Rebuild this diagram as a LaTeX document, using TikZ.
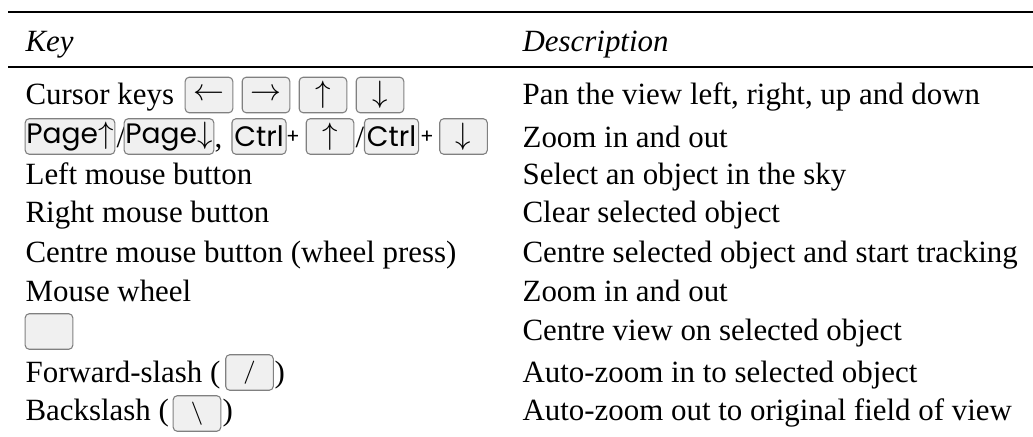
\documentclass[tikz,border=0pt]{standalone}
\usepackage{fontspec}
\setmainfont{Liberation Serif}
\newfontfamily\keyfont{Poppins}
\usetikzlibrary{positioning}

\begin{document}
\begin{tikzpicture}[x=0.3236pt, y=-0.3236pt,
  txt/.style={anchor=base west, inner sep=0pt, font=\fontsize{10}{12}\selectfont},
  head/.style={txt, font=\fontsize{10}{12}\selectfont\itshape},
  keycap/.style={draw=black!50, fill=black!6, rounded corners=1.3pt, line width=0.35pt,
    minimum height=11.5pt, minimum width=15.4pt, inner sep=0pt,
    font=\keyfont\fontsize{9.1}{11}\selectfont},
  pagekey/.style={keycap, minimum width=29pt},
  ctrlkey/.style={keycap, minimum width=17.5pt},
  plus/.style={inner sep=0pt, font=\keyfont\fontsize{6.5}{8}\selectfont}]
\useasboundingbox (0,0) rectangle (1033,437);

% Rules
\draw[line width=0.7pt] (8,12) -- (1033,12);
\draw[line width=0.45pt] (8,67) -- (1033,67);

% Header
\node[head] (hkey) at (25,52) {Key};
\node[head] (hdesc) at (522,52) {Description};

% Cursor keys
\node[txt] (cursor) at (25,105) {Cursor keys};
\node[keycap] (kleft) at (209,95) {\fontsize{10}{11}\selectfont$\leftarrow$};
\node[keycap] (kright) at (266,95) {\fontsize{10}{11}\selectfont$\rightarrow$};
\node[keycap] (kup) at (323,95) {\fontsize{10}{11}\selectfont$\uparrow$};
\node[keycap] (kdown) at (380,95) {\fontsize{10}{11}\selectfont$\downarrow$};

% Page / Ctrl keys
\node[pagekey] (pgup) at (70,136.5) {Page{\fontsize{10}{11}\selectfont$\uparrow$}};
\node[txt] (sl1) at (116,148) {/};
\node[pagekey] (pgdn) at (169,136.5) {Page{\fontsize{10}{11}\selectfont$\downarrow$}};
\node[txt] (comma) at (214,148) {,};
\node[ctrlkey] (ctrla) at (259,136.5) {Ctrl};
\node[plus] (pla) at (293,137) {+};
\node[keycap] (cup) at (330,136.5) {\fontsize{10}{11}\selectfont$\uparrow$};
\node[txt] (sl2) at (355,148) {/};
\node[ctrlkey] (ctrlb) at (391.5,136.5) {Ctrl};
\node[plus] (plb) at (427,137) {+};
\node[keycap] (cdown) at (463.5,136.5) {\fontsize{10}{11}\selectfont$\downarrow$};

% Mouse rows
\node[txt] (lmb) at (25,185) {Left mouse button};
\node[txt] (rmb) at (25,223) {Right mouse button};
\node[txt] (cmb) at (25,262) {Centre mouse button (wheel press)};
\node[txt] (mwh) at (25,301) {Mouse wheel};

% Empty key
\node[keycap] (space) at (49,331.5) {};

% Slashes
\node[txt] (fwd) at (25,382) {Forward-slash (};
\node[keycap, font=\sffamily\fontsize{7.5}{9}\selectfont] (kfwd) at (249.5,372.5) {/};
\node[txt] (fwdend) at (274,382) {)};
\node[txt] (bck) at (25,420) {Backslash (};
\node[keycap, font=\sffamily\fontsize{7.5}{9}\selectfont] (kbck) at (197,413.5) {\textbackslash};
\node[txt] (bckend) at (222,420) {)};

% Descriptions
\node[txt] (d1) at (522,105) {Pan the view left, right, up and down};
\node[txt] (d2) at (522,148) {Zoom in and out};
\node[txt] (d3) at (522,185) {Select an object in the sky};
\node[txt] (d4) at (522,223) {Clear selected object};
\node[txt] (d5) at (522,262) {Centre selected object and start tracking};
\node[txt] (d6) at (522,301) {Zoom in and out};
\node[txt] (d7) at (522,340) {Centre view on selected object};
\node[txt] (d8) at (522,382) {Auto-zoom in to selected object};
\node[txt] (d9) at (522,420) {Auto-zoom out to original field of view};
\end{tikzpicture}
\end{document}
